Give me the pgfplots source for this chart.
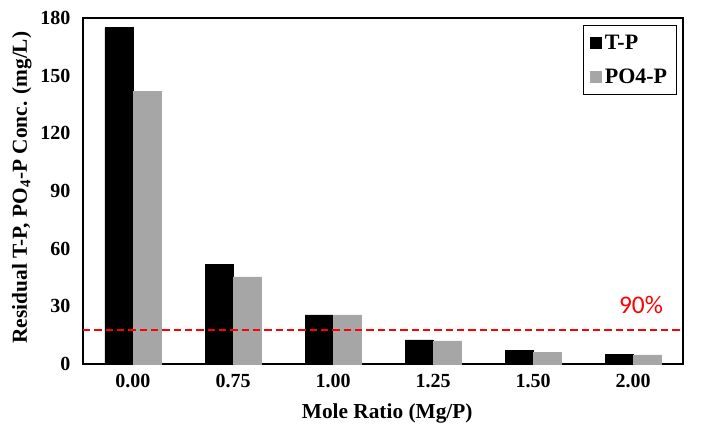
\documentclass[border=0pt]{standalone}
\usepackage{pgfplots}
\pgfplotsset{compat=1.18}
\usepackage{fontspec}
\setmainfont{Liberation Serif}
\newfontfamily\carlito{Carlito}
\definecolor{barblack}{HTML}{000000}
\definecolor{bargray}{HTML}{A6A6A6}
\definecolor{linered}{HTML}{FF0000}
\begin{document}
\begin{tikzpicture}
\begin{axis}[
  scale only axis,
  width=450pt, height=259.5pt,
  xmin=-0.5, xmax=5.5,
  ymin=0, ymax=180,
  ytick={0,30,60,90,120,150,180},
  xtick={0,1,2,3,4,5},
  xticklabels={0.00,0.75,1.00,1.25,1.50,2.00},
  major tick length=0pt,
  /pgf/number format/assume math mode=true,
  ticklabel style={font=\bfseries\fontsize{15}{17}\selectfont},
  yticklabel style={xshift=-6pt},
  xticklabel style={yshift=-4pt},
  ylabel={Residual T-P, PO$_{\mathbf{4}}$-P Conc. (mg/L)},
  xlabel={Mole Ratio (Mg/P)},
  label style={font=\bfseries\fontsize{16}{18}\selectfont},
  ylabel style={at={(axis description cs:-0.102,0.51)}, anchor=center},
  xlabel style={at={(axis description cs:0.507,-0.142)}, anchor=center},
  ybar=0pt,
  bar width=0.28,
  clip=false,
  legend style={at={(0.99,0.98)}, anchor=north east, draw=black, line width=0.8pt,
    font=\bfseries\fontsize{16.5}{18}\selectfont, row sep=9pt, inner xsep=5pt, inner ysep=5pt},
  legend cell align=left,
  legend image code/.code={\fill[#1] (0pt,-4pt) rectangle (8pt,4pt);},
  axis line style={line width=0.8pt},
]
\addplot[fill=barblack, draw=barblack, bar shift=-0.14] coordinates {
  (0,175) (1,52) (2,25.5) (3,12.5) (4,7.2) (5,5.2)};
\addlegendentry{T-P}
\addplot[fill=bargray, draw=bargray, bar shift=0.14] coordinates {
  (0,142) (1,45.3) (2,25.5) (3,12) (4,6.2) (5,4.7)};
\addlegendentry{PO4-P}
\addplot[ybar=0pt, sharp plot, linered, line width=1.7pt, dash pattern=on 5.5pt off 3pt, forget plot]
  coordinates {(-0.5,17.6) (5.5,17.6)};
\node[font=\carlito\fontsize{19}{21}\selectfont, text=linered] at (axis cs:5.08,30.7) {90\%};
\end{axis}
\path (current axis.south west) ++(-62.25pt,-53.25pt);
\path (current axis.north east) ++(25.5pt,13.5pt);
\end{tikzpicture}
\end{document}
